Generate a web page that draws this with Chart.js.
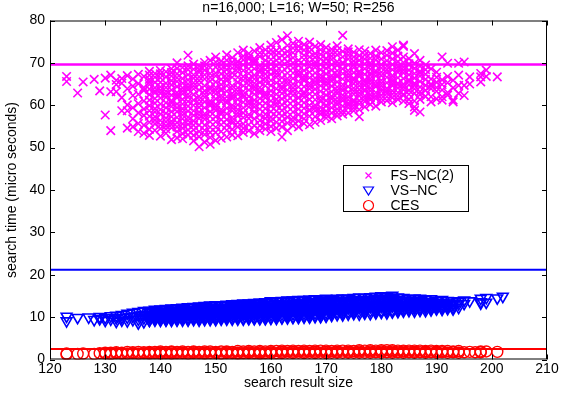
<!DOCTYPE html>
<html>
<head>
<meta charset="utf-8">
<script src="https://cdn.jsdelivr.net/npm/chart.js@4.4.0/dist/chart.umd.min.js"></script>
<style>
  html, body { margin: 0; padding: 0; background: #fff; }
</style>
</head>
<body>
<canvas id="searchChart" width="564" height="396"></canvas>
<script>
const chartTitle = "n=16,000; L=16; W=50; R=256";
const xTitle = "search result size";
const yTitle = "search time (micro seconds)";
const seriesNames = ["FS\u2212NC(2)", "VS\u2212NC", "CES"];
const seriesColors = ["#ff00ff", "#0000ff", "#ff0000"];
const xTicks = [120, 130, 140, 150, 160, 170, 180, 190, 200, 210];
const yTicks = [0, 10, 20, 30, 40, 50, 60, 70, 80];
// horizontal reference levels (FS-NC, VS-NC, CES)
const meanLines = [69.6, 21.2, 2.5];

// each row: [result size, search times...]
const fsncCols = [
  [123, 66.8, 65.6], [125, 62.9], [126, 65.5], [128, 66.1], [129, 63.4],
  [130, 57.7, 66.4], [131, 67.1, 63.2, 54.0], [132, 65.9, 63.2, 64.9],
  [133, 58.7, 66.3, 61.8, 65.2], [134, 58.7, 54.6, 67.0, 63.9, 60.1],
  [135, 54.9, 66.2, 64.5, 56.8, 59.4, 62.3],
  [136, 53.8, 67.3, 65.1, 62.6, 58.2, 55.7, 60.4],
  [137, 55.3, 66.8, 64.2, 61.0, 57.6, 53.4, 63.5, 59.1],
  [138, 52.9, 68.0, 66.1, 63.8, 61.2, 58.7, 56.0, 54.3, 64.9],
  [139, 54.1, 67.5, 65.4, 62.9, 60.5, 57.3, 55.6, 66.6, 59.2],
  [140, 52.7, 68.2, 66.5, 64.3, 61.7, 59.0, 56.4, 54.5, 62.8, 57.9],
  [141, 53.4, 67.9, 65.2, 63.3, 60.6, 58.1, 55.2, 66.7, 61.9, 57.0],
  [142, 51.9, 68.6, 66.9, 64.8, 62.4, 59.7, 57.3, 54.7, 61.1, 56.2, 63.6],
  [143, 52.3, 70.0, 67.4, 65.6, 63.0, 60.3, 58.5, 55.9, 53.8, 61.8, 64.4],
  [144, 52.1, 68.9, 66.3, 64.1, 61.4, 59.2, 56.8, 54.6, 62.7, 67.7, 57.7],
  [145, 71.8, 53.0, 68.4, 66.0, 63.7, 60.9, 58.6, 55.5, 65.0, 61.9, 57.2, 69.3],
  [146, 51.6, 69.7, 67.2, 65.3, 62.5, 60.0, 57.6, 54.2, 63.9, 56.3, 66.4],
  [147, 50.2, 69.2, 67.8, 64.9, 62.1, 59.5, 56.9, 53.8, 61.3, 58.4, 65.8, 52.6],
  [148, 51.3, 70.1, 68.3, 66.2, 63.4, 60.8, 58.0, 55.3, 53.1, 64.6, 61.9, 56.7],
  [149, 50.8, 70.6, 67.5, 65.7, 62.9, 59.9, 57.4, 54.8, 63.8, 61.0, 68.9, 52.4],
  [150, 51.7, 71.4, 69.0, 66.9, 64.2, 61.5, 58.8, 56.1, 53.6, 62.7, 60.2, 67.6],
  [151, 52.2, 70.4, 68.6, 66.1, 63.5, 60.9, 57.9, 55.4, 64.9, 59.0, 62.3, 69.5],
  [152, 52.5, 71.9, 69.4, 67.3, 64.6, 62.0, 59.3, 56.6, 54.1, 65.8, 61.1, 58.0],
  [153, 53.0, 71.2, 68.8, 66.6, 63.9, 61.6, 58.7, 55.8, 70.2, 62.8, 60.0, 57.1],
  [154, 52.8, 72.4, 70.3, 67.9, 65.4, 62.6, 60.1, 57.5, 54.9, 64.1, 68.7, 59.0],
  [155, 53.6, 73.0, 70.7, 68.2, 65.9, 63.3, 60.7, 58.2, 55.6, 66.8, 61.9, 71.6],
  [156, 54.0, 72.2, 69.8, 67.5, 64.8, 62.1, 59.6, 56.9, 65.7, 61.0, 70.9, 57.8],
  [157, 53.3, 72.8, 71.0, 68.6, 66.2, 63.7, 61.2, 58.5, 55.2, 64.4, 69.9, 60.3],
  [158, 54.0, 73.6, 71.5, 69.2, 66.7, 64.2, 61.6, 59.1, 56.4, 62.9, 67.8, 57.7],
  [159, 54.4, 73.1, 70.6, 68.4, 65.6, 63.0, 60.5, 57.9, 55.6, 71.9, 66.4, 61.8],
  [160, 53.8, 74.2, 72.1, 69.7, 67.3, 64.7, 62.3, 59.8, 57.2, 55.0, 65.9, 70.8],
  [161, 54.6, 74.8, 71.9, 69.3, 66.6, 63.9, 61.4, 58.6, 56.0, 68.1, 72.9, 60.6],
  [162, 52.5, 75.5, 73.0, 70.4, 67.9, 65.3, 62.8, 60.1, 57.5, 54.9, 66.5, 63.8],
  [163, 76.4, 54.0, 74.1, 71.6, 69.0, 66.3, 63.6, 61.1, 58.4, 55.8, 72.7, 64.9],
  [164, 55.2, 74.6, 72.4, 70.0, 67.6, 65.0, 62.4, 59.7, 57.1, 68.8, 63.3, 73.5],
  [165, 54.9, 75.1, 72.9, 70.6, 68.1, 65.6, 63.0, 60.4, 57.8, 56.3, 66.9, 61.7],
  [166, 55.7, 74.3, 71.8, 69.5, 67.0, 64.4, 61.9, 59.3, 56.8, 73.0, 65.8, 62.6],
  [167, 55.4, 74.9, 72.6, 70.2, 67.8, 65.2, 62.7, 60.0, 57.4, 69.1, 63.9, 58.8],
  [168, 56.0, 73.9, 71.3, 68.9, 66.4, 63.8, 61.3, 58.7, 57.3, 72.2, 64.9, 70.2],
  [169, 56.4, 74.3, 72.0, 69.6, 67.1, 64.6, 62.0, 59.5, 57.9, 65.7, 70.9, 60.9],
  [170, 57.0, 73.6, 71.1, 68.7, 66.2, 63.6, 61.1, 58.6, 64.8, 69.9, 60.0, 72.4],
  [171, 56.8, 73.2, 70.8, 68.3, 65.7, 63.2, 60.6, 58.2, 67.0, 62.1, 71.6],
  [172, 57.5, 74.0, 71.9, 69.4, 66.8, 64.3, 61.7, 59.1, 65.5, 62.8, 70.3, 60.2],
  [173, 76.5, 57.9, 72.7, 70.1, 67.5, 64.9, 62.4, 59.8, 68.6, 63.5, 61.1],
  [174, 58.2, 73.3, 70.9, 68.2, 65.8, 63.1, 60.5, 66.7, 62.0, 71.8, 59.4],
  [175, 58.7, 72.5, 70.4, 67.7, 65.1, 62.6, 60.1, 64.0, 68.9, 61.2, 66.4],
  [176, 57.3, 73.1, 70.6, 68.0, 65.4, 62.9, 60.3, 59.0, 66.8, 71.7, 63.7],
  [177, 59.6, 72.8, 69.8, 67.3, 64.7, 62.2, 60.9, 66.0, 70.9, 63.4],
  [178, 60.2, 72.2, 70.0, 67.6, 65.0, 62.5, 61.3, 68.5, 64.1, 66.3],
  [179, 59.8, 73.0, 70.7, 68.1, 65.6, 63.0, 61.6, 66.9, 64.4, 71.6],
  [180, 60.8, 72.4, 69.6, 67.0, 64.6, 62.4, 65.9, 68.8, 63.3],
  [181, 61.1, 71.8, 69.2, 66.6, 64.0, 62.0, 67.7, 65.3, 70.5],
  [182, 60.6, 73.8, 70.9, 68.4, 65.7, 63.4, 61.8, 67.0, 72.3, 64.6],
  [183, 61.4, 73.0, 70.3, 67.8, 65.2, 63.0, 66.5, 69.1, 64.1],
  [184, 61.0, 73.9, 71.4, 69.0, 66.3, 63.7, 62.3, 67.6, 65.0, 74.2],
  [185, 60.4, 69.5, 67.2, 64.8, 62.6, 66.0, 63.5, 71.0, 68.3],
  [186, 58.8, 72.2, 69.9, 67.5, 65.2, 62.8, 61.0, 66.4, 63.9, 59.6],
  [187, 58.4, 70.6, 68.0, 65.6, 63.2, 61.4, 66.9, 64.3, 69.2],
  [188, 62.1, 69.5, 67.3, 64.7, 66.1, 63.5, 68.4],
  [189, 60.8, 68.6, 66.2, 63.9, 62.0, 65.0, 64.6],
  [190, 61.5, 67.8, 65.4, 63.3, 66.6, 64.2],
  [191, 61.2, 71.4, 66.0, 63.6, 62.0, 64.9],
  [192, 69.9, 65.3, 63.0, 62.4, 66.8],
  [193, 61.2, 64.1, 60.8, 65.9],
  [194, 69.9, 64.7, 62.8, 67.1],
  [195, 62.3, 64.7, 70.2],
  [196, 66.7, 65.0],
  [198, 66.7, 67.5, 65.5],
  [199, 68.3, 66.8],
  [201, 66.7]
];

// further FS-NC(2) points in the dense middle of the cloud
const fsncDense = [
  [138, 62.5, 57.4, 65.5, 59.9, 67.1], [139, 61.6, 58.4, 64.1, 56.5, 63.3],
  [140, 60.3, 55.4, 65.4, 67.4, 63.5], [141, 59.4, 64.2, 56.1, 62.6, 54.4],
  [142, 60.5, 65.8, 58.5, 67.7, 55.5], [143, 59.4, 62.4, 66.5, 57.1, 54.9, 68.7],
  [144, 60.3, 65.2, 63.4, 58.4, 55.6, 53.3], [145, 62.6, 59.8, 64.3, 56.4, 67.2, 54.2],
  [146, 61.2, 58.7, 64.6, 68.5, 55.3, 52.9], [147, 60.4, 63.6, 55.3, 66.7, 57.7, 68.4],
  [148, 59.4, 62.6, 67.2, 57.4, 54.1, 69.3], [149, 60.4, 64.3, 56.1, 66.6, 58.5, 53.6],
  [150, 63.5, 59.5, 65.5, 57.3, 54.8, 70.2], [151, 61.6, 67.4, 56.6, 53.8, 63.9, 58.4],
  [152, 63.3, 60.6, 68.4, 55.3, 66.5, 70.6], [153, 64.6, 59.4, 67.6, 56.4, 54.3, 62.1],
  [154, 61.4, 66.6, 58.2, 55.9, 69.4, 63.3], [155, 62.5, 64.6, 59.4, 57.1, 69.5, 54.6],
  [156, 63.6, 60.4, 68.6, 55.4, 66.3, 71.4], [157, 62.6, 67.1, 59.6, 56.8, 70.5, 65.2],
  [158, 63.4, 60.4, 68.4, 65.4, 55.2, 72.4], [159, 62.5, 64.6, 59.2, 69.4, 56.9, 67.4],
  [160, 63.4, 61.0, 68.5, 58.5, 56.3, 73.0], [161, 62.6, 65.3, 59.9, 70.6, 57.4, 67.3],
  [162, 64.4, 61.5, 69.2, 58.8, 56.2, 71.7], [163, 62.4, 67.6, 59.8, 57.2, 70.3, 65.6],
  [164, 64.1, 61.0, 66.3, 58.4, 56.3, 71.2], [165, 64.3, 61.8, 69.4, 59.1, 73.9, 67.4],
  [166, 63.1, 60.6, 68.2, 58.0, 70.8, 66.3], [167, 64.6, 61.4, 66.5, 58.9, 71.4, 73.6],
  [168, 62.6, 60.0, 67.6, 65.6, 59.4, 69.6], [169, 63.3, 61.3, 68.4, 58.6, 66.4, 73.1],
  [170, 62.4, 59.8, 67.4, 65.5, 70.9, 57.8], [171, 64.5, 61.5, 69.6, 59.4, 66.3, 72.4],
  [172, 63.5, 60.9, 68.1, 58.3, 72.9, 67.2], [173, 64.2, 61.7, 69.9, 58.6, 66.2, 71.4],
  [174, 64.4, 61.3, 67.4, 69.5, 60.1, 72.6], [175, 63.3, 60.8, 69.6, 59.4, 71.4, 65.9],
  [176, 64.6, 62.2, 69.3, 61.1, 67.4], [177, 63.7, 61.6, 68.6, 65.4, 71.9],
  [178, 63.4, 61.8, 69.3, 65.7, 71.1, 67.1], [179, 62.2, 64.9, 69.4, 67.6],
  [180, 61.6, 65.2, 70.9, 67.8, 63.9], [181, 62.8, 68.4, 63.4, 72.9],
  [182, 62.6, 69.6, 66.3, 65.1], [183, 62.2, 68.4, 71.6, 64.9],
  [184, 62.6, 70.1, 64.4, 68.3], [185, 61.4, 65.6, 69.8],
  [186, 64.7, 68.7], [187, 62.5, 67.6]
];

const vsncCols = [
  [123, 10.2, 9.1], [125, 9.9], [127, 10.0], [128, 9.4], [129, 10.1, 9.6],
  [130, 9.2, 9.9], [131, 9.5, 10.3], [132, 9.0, 9.8, 10.4], [133, 9.3, 10.6, 9.9],
  [134, 9.1, 10.9, 10.0], [135, 9.4, 11.1, 10.2], [136, 8.6, 11.3, 10.4, 9.5],
  [137, 8.9, 11.5, 10.6, 9.8],
  [138, 9.3, 11.4, 10.6, 9.9], [139, 9.6, 11.5, 10.2, 10.9], [140, 9.5, 11.7, 10.8, 10.1],
  [141, 9.4, 11.8, 11.0, 10.3, 9.8], [142, 9.6, 11.9, 10.7, 11.3], [143, 9.5, 12.0, 11.1, 10.4, 9.9],
  [144, 9.7, 12.1, 10.9, 11.5], [145, 9.6, 12.3, 11.4, 10.6, 10.0], [146, 9.7, 12.2, 11.2, 10.5],
  [147, 9.6, 12.4, 11.6, 10.8, 10.1], [148, 9.8, 12.5, 11.3, 10.4, 11.9], [149, 9.7, 12.6, 11.7, 10.9, 10.2],
  [150, 9.7, 12.7, 11.5, 10.6, 12.1], [151, 9.8, 12.6, 11.8, 11.0, 10.3], [152, 9.9, 12.8, 11.4, 10.7, 12.2],
  [153, 9.8, 12.9, 12.0, 11.2, 10.4], [154, 9.9, 13.0, 11.6, 10.8, 12.3], [155, 9.8, 13.1, 12.1, 11.3, 10.5],
  [156, 10.0, 13.0, 11.8, 10.9, 12.4], [157, 9.9, 13.2, 12.3, 11.4, 10.6], [158, 10.0, 13.4, 12.0, 11.1, 12.7],
  [159, 9.9, 13.5, 12.5, 11.6, 10.7], [160, 10.0, 13.7, 12.2, 11.2, 12.9, 10.6], [161, 10.1, 13.6, 12.6, 11.7, 10.8],
  [162, 10.0, 13.8, 12.4, 11.4, 13.0], [163, 10.2, 13.7, 12.8, 11.9, 10.9], [164, 10.1, 13.9, 12.5, 11.5, 13.2],
  [165, 10.2, 14.0, 12.9, 12.0, 11.0], [166, 10.3, 13.9, 12.7, 11.6, 13.3], [167, 10.2, 14.1, 13.1, 12.1, 11.1],
  [168, 10.4, 14.2, 12.8, 11.8, 13.5], [169, 10.3, 14.0, 13.2, 12.2, 11.2], [170, 10.5, 14.3, 12.9, 11.9, 13.6],
  [171, 10.4, 14.2, 13.3, 12.3, 11.4], [172, 10.6, 14.4, 13.0, 12.0, 13.7], [173, 10.5, 14.5, 13.5, 12.5, 11.5],
  [174, 10.7, 14.4, 13.1, 12.1, 13.8], [175, 10.8, 14.6, 13.6, 12.6, 11.7], [176, 10.7, 14.7, 13.3, 12.2, 13.9],
  [177, 10.9, 14.6, 13.7, 12.7, 11.8], [178, 10.8, 14.8, 13.4, 12.4, 14.1], [179, 11.0, 14.9, 13.8, 12.8, 11.9],
  [180, 11.1, 15.0, 13.5, 12.5, 14.2], [181, 11.0, 14.8, 13.9, 12.9, 12.0], [182, 11.2, 15.1, 13.6, 12.6, 14.3],
  [183, 11.3, 14.7, 13.9, 12.9, 12.1], [184, 11.4, 14.6, 13.5, 12.5], [185, 11.5, 14.3, 13.4, 12.4],
  [186, 11.4, 14.5, 13.7, 12.7, 12.0], [187, 11.6, 14.4, 13.3, 12.3], [188, 11.5, 14.2, 13.6, 12.8, 12.1],
  [189, 11.7, 14.3, 13.2, 12.4], [190, 11.9, 14.0, 13.4, 12.6], [191, 11.8, 14.1, 13.0, 12.5],
  [192, 12.0, 13.9, 13.3, 12.7], [193, 11.9, 13.8, 12.9], [194, 12.3, 13.7, 13.1],
  [195, 13.2, 14.0], [196, 13.8], [198, 13.3, 14.4, 13.6], [199, 13.5, 14.6], [201, 14.5], [202, 14.9]
];

// further VS-NC points filling the band
const vsncDense = [
  [138, 10.2, 11.0], [139, 9.9, 10.6, 11.2], [140, 9.8, 10.4, 11.3], [141, 10.6, 11.4],
  [142, 9.9, 10.3, 11.6], [143, 10.7, 11.5], [144, 10.0, 10.4, 11.8], [145, 10.9, 11.8],
  [146, 10.0, 10.8, 11.7], [147, 10.4, 12.0], [148, 10.1, 10.9, 12.2], [149, 10.6, 11.3, 12.2],
  [150, 10.1, 11.1, 11.9], [151, 10.6, 11.4, 12.2], [152, 10.3, 11.0, 11.8], [153, 10.8, 11.6, 12.5],
  [154, 10.3, 11.2, 12.7], [155, 10.9, 11.7, 12.6], [156, 10.4, 11.4, 12.7], [157, 11.0, 11.8, 12.8],
  [158, 10.5, 11.6, 13.1], [159, 10.3, 11.2, 12.1, 13.0], [160, 11.7, 13.3], [161, 10.4, 11.2, 12.2, 13.1],
  [162, 10.7, 11.9, 12.7], [163, 10.6, 11.4, 12.3, 13.3], [164, 10.8, 12.0, 12.9], [165, 10.6, 11.5, 12.5, 13.5],
  [166, 10.9, 12.2, 13.0], [167, 10.7, 11.6, 12.6, 13.6], [168, 11.0, 12.3, 13.1], [169, 10.8, 11.7, 12.7, 13.7],
  [170, 11.1, 12.4, 13.2], [171, 10.9, 11.8, 12.8, 13.8], [172, 11.2, 12.5, 13.3], [173, 11.0, 12.0, 13.0, 14.0],
  [174, 11.3, 12.6, 13.5], [175, 11.2, 12.2, 13.2, 14.1], [176, 11.4, 12.8, 13.6], [177, 11.3, 12.3, 13.3, 14.2],
  [178, 11.5, 12.9, 13.8], [179, 11.4, 12.4, 13.4, 14.4], [180, 11.6, 13.0, 14.5], [181, 11.5, 12.5, 13.5, 14.3],
  [182, 11.7, 13.2, 14.6], [183, 11.7, 12.6, 13.4, 14.2], [184, 11.9, 13.0, 14.0], [185, 11.9, 12.9, 13.8],
  [186, 12.3, 13.2, 14.0], [187, 11.9, 12.8, 13.8], [188, 12.5, 13.2], [189, 12.0, 12.8, 13.7],
  [190, 12.2, 13.0], [191, 12.1, 13.5], [192, 12.3, 13.0], [193, 12.3, 13.3]
];

// lowest and highest VS-NC points along the left half of the band
const vsncEdge = [
  [138, 9.2, 10.5, 11.6], [139, 9.3, 11.0, 11.8], [140, 9.2, 10.7, 11.9], [141, 9.3, 10.9, 12.0],
  [142, 9.2, 11.1, 12.1], [143, 9.3, 10.9, 12.2], [144, 9.3, 11.3, 12.3], [145, 9.3, 11.2, 12.4],
  [146, 9.4, 11.5, 12.5], [147, 9.3, 11.3, 12.6], [148, 9.4, 11.6, 12.7], [149, 9.4, 11.5, 12.8],
  [150, 9.4, 11.8, 12.9], [151, 9.5, 11.6, 12.9], [152, 9.5, 12.0, 13.0], [153, 9.5, 11.9, 13.1],
  [154, 9.5, 12.1, 13.2], [155, 9.5, 11.9, 13.3], [156, 9.6, 12.2, 13.3], [157, 9.6, 12.0, 13.4],
  [158, 9.6, 12.4, 13.5], [159, 9.6, 12.2, 13.6], [160, 9.7, 12.5, 13.8], [161, 9.7, 12.3, 13.8],
  [162, 9.8, 12.6, 13.9], [163, 9.8, 12.5, 14.0], [164, 9.9, 12.8, 14.0], [165, 9.9, 12.6, 14.1],
  [166, 10.0, 13.0, 14.1], [167, 10.0, 12.8, 14.2], [168, 10.1, 13.1, 14.3], [169, 10.1, 13.0, 14.3],
  [170, 10.2, 13.3, 14.4]
];

const cesCols = [
  [123, 1.4, 1.2], [125, 1.3], [126, 1.4], [128, 1.3], [129, 1.5], [130, 1.4, 1.6],
  [131, 1.3, 1.6], [132, 1.5, 1.7], [133, 1.4, 1.6], [134, 1.4, 1.8], [135, 1.5, 1.7],
  [136, 1.4, 1.8], [137, 1.5, 1.7], [138, 1.4, 1.8, 1.6], [139, 1.5, 1.8], [140, 1.4, 1.9, 1.6],
  [141, 1.5, 1.8], [142, 1.4, 1.9, 1.7], [143, 1.5, 1.8], [144, 1.5, 1.9, 1.6], [145, 1.4, 1.8],
  [146, 1.5, 1.9, 1.7], [147, 1.5, 1.8], [148, 1.4, 1.9, 1.6], [149, 1.5, 1.9], [150, 1.5, 1.8, 1.6],
  [151, 1.4, 1.9], [152, 1.5, 1.9, 1.7], [153, 1.5, 1.8], [154, 1.4, 2.0, 1.6], [155, 1.5, 1.9],
  [156, 1.5, 2.0, 1.7], [157, 1.5, 1.9], [158, 1.4, 2.0, 1.7], [159, 1.5, 1.9], [160, 1.5, 2.0, 1.7],
  [161, 1.5, 2.0], [162, 1.5, 2.1, 1.8], [163, 1.6, 2.0], [164, 1.5, 2.1, 1.8], [165, 1.6, 2.0],
  [166, 1.5, 2.1, 1.8], [167, 1.6, 2.0], [168, 1.5, 2.1, 1.8], [169, 1.6, 2.1], [170, 1.5, 2.1, 1.8],
  [171, 1.6, 2.0], [172, 1.6, 2.1, 1.8], [173, 1.6, 2.1], [174, 1.6, 2.1, 1.8], [175, 1.6, 2.0],
  [176, 1.6, 2.2, 1.9], [177, 1.6, 2.1], [178, 1.6, 2.2, 1.9], [179, 1.7, 2.1], [180, 1.6, 2.2, 1.9],
  [181, 1.7, 2.2], [182, 1.6, 2.2, 1.9], [183, 1.7, 2.1], [184, 1.6, 2.1, 1.9], [185, 1.7, 2.1],
  [186, 1.6, 2.1, 1.8], [187, 1.7, 2.1], [188, 1.6, 2.0, 1.8], [189, 1.7, 2.1], [190, 1.6, 2.0, 1.8],
  [191, 1.7, 2.0], [192, 1.6, 2.0], [193, 1.7, 1.9], [194, 1.6, 2.0], [195, 1.7], [196, 1.8],
  [197, 1.7], [198, 1.9, 1.7], [199, 1.9], [201, 1.8]
];

function toPoints(cols) {
  const pts = [];
  cols.forEach(col => {
    for (let i = 1; i < col.length; i++) pts.push({ x: col[0], y: col[i] });
  });
  return pts;
}

const FONT = "'Liberation Sans', Arial, Helvetica, sans-serif";
Chart.defaults.font.family = FONT;
Chart.defaults.color = "#000";

const markerStyles = [
  { pointStyle: "crossRot", radius: 6, rotation: 0, width: 1.6 },
  { pointStyle: "triangle", radius: 6.2, rotation: 180, width: 1.6 },
  { pointStyle: "circle", radius: 5.5, rotation: 0, width: 1.4 }
];

function legendMarker(ctx, i, x, y) {
  ctx.beginPath();
  if (i === 0) {
    ctx.moveTo(x - 3, y - 3); ctx.lineTo(x + 3, y + 3);
    ctx.moveTo(x + 3, y - 3); ctx.lineTo(x - 3, y + 3);
  } else if (i === 1) {
    ctx.moveTo(x - 5, y - 3.5); ctx.lineTo(x + 5, y - 3.5); ctx.lineTo(x, y + 4.5); ctx.closePath();
  } else {
    ctx.arc(x, y, 5, 0, Math.PI * 2);
  }
  ctx.stroke();
}

// MATLAB-like box with inward ticks on all four sides, plus legend
const boxPlugin = {
  id: "matlabBox",
  afterDatasetsDraw(chart) {
    const { ctx, chartArea: a, scales } = chart;
    ctx.save();
    ctx.strokeStyle = "#000";
    ctx.lineWidth = 1;
    ctx.strokeRect(a.left + 0.5, a.top + 0.5, a.right - a.left - 1, a.bottom - a.top - 1);
    ctx.beginPath();
    xTicks.forEach(v => {
      const px = Math.round(scales.x.getPixelForValue(v)) + 0.5;
      ctx.moveTo(px, a.bottom); ctx.lineTo(px, a.bottom - 5);
      ctx.moveTo(px, a.top); ctx.lineTo(px, a.top + 5);
    });
    yTicks.forEach(v => {
      const py = Math.round(scales.y.getPixelForValue(v)) + 0.5;
      ctx.moveTo(a.left, py); ctx.lineTo(a.left + 5, py);
      ctx.moveTo(a.right, py); ctx.lineTo(a.right - 5, py);
    });
    ctx.stroke();
    ctx.restore();
  },
  afterDraw(chart) {
    const ctx = chart.ctx;
    const box = { x: 343.5, y: 165.5, w: 125, h: 46 };
    ctx.save();
    ctx.fillStyle = "#fff";
    ctx.fillRect(box.x, box.y, box.w, box.h);
    ctx.strokeStyle = "#000";
    ctx.lineWidth = 1;
    ctx.strokeRect(box.x, box.y, box.w, box.h);
    ctx.font = "14px " + FONT;
    ctx.textBaseline = "middle";
    seriesNames.forEach((name, i) => {
      const y = box.y + 10 + i * 15;
      ctx.strokeStyle = seriesColors[i];
      ctx.lineWidth = 1.2;
      legendMarker(ctx, i, box.x + 25, y);
      ctx.fillStyle = "#000";
      ctx.fillText(name, box.x + 47, y + 1);
    });
    ctx.restore();
  }
};

const pointLists = [
  toPoints(fsncCols).concat(toPoints(fsncDense)),
  toPoints(vsncCols).concat(toPoints(vsncDense), toPoints(vsncEdge)),
  toPoints(cesCols)
];

const scatterSets = pointLists.map((pts, i) => ({
  type: "scatter",
  label: seriesNames[i],
  data: pts,
  pointStyle: markerStyles[i].pointStyle,
  pointRadius: markerStyles[i].radius,
  pointRotation: markerStyles[i].rotation,
  pointBorderColor: seriesColors[i],
  pointBackgroundColor: "rgba(0,0,0,0)",
  pointBorderWidth: markerStyles[i].width,
  showLine: false
}));

const lineSets = meanLines.map((level, i) => ({
  type: "line",
  label: "mean " + seriesNames[i],
  data: [{ x: xTicks[0], y: level }, { x: xTicks[xTicks.length - 1], y: level }],
  borderColor: seriesColors[i],
  borderWidth: i === 0 ? 2.5 : 2,
  pointRadius: 0,
  fill: false
}));

new Chart(document.getElementById("searchChart").getContext("2d"), {
  data: { datasets: lineSets.concat(scatterSets) },
  options: {
    responsive: false,
    animation: false,
    events: [],
    layout: { padding: { left: 0, right: 17, top: 0, bottom: 4.5 } },
    plugins: {
      legend: { display: false },
      tooltip: { enabled: false },
      title: {
        display: true,
        text: chartTitle,
        fullSize: false,
        color: "#000",
        font: { size: 14, weight: "normal" },
        padding: { top: 0, bottom: 3.7 }
      }
    },
    scales: {
      x: {
        type: "linear",
        min: xTicks[0],
        max: xTicks[xTicks.length - 1],
        afterBuildTicks: s => { s.ticks = xTicks.map(v => ({ value: v })); },
        afterFit: s => { s.height = 32; },
        grid: { display: false, drawTicks: false },
        border: { display: false },
        ticks: { font: { size: 14 }, padding: 1, maxRotation: 0, autoSkip: false },
        title: { display: true, text: xTitle, font: { size: 14 }, padding: 0 }
      },
      y: {
        type: "linear",
        min: yTicks[0],
        max: yTicks[yTicks.length - 1],
        afterBuildTicks: s => { s.ticks = yTicks.map(v => ({ value: v })); },
        afterFit: s => { s.width = 50; },
        grid: { display: false, drawTicks: false },
        border: { display: false },
        ticks: { font: { size: 14 }, padding: 5, autoSkip: false },
        title: { display: true, text: yTitle, font: { size: 14 }, padding: { top: 4, bottom: 0 } }
      }
    }
  },
  plugins: [boxPlugin]
});
</script>
</body>
</html>
